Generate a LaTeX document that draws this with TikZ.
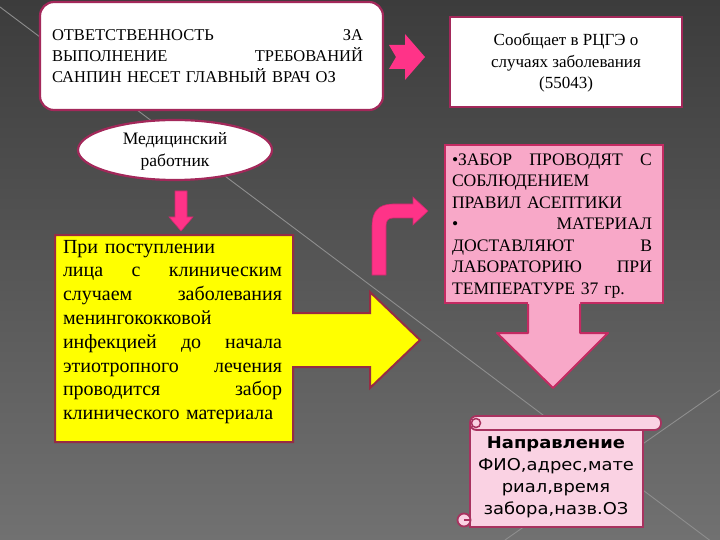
\documentclass[tikz,border=0pt]{standalone}
\usepackage{fontspec}
\setmainfont{Liberation Serif}
\newfontfamily\scrollfont[FakeStretch=1.1]{DejaVu Sans}
\usetikzlibrary{shapes.geometric}
\definecolor{bgtop}{HTML}{3C3C3C}
\definecolor{bgbot}{HTML}{717171}
\definecolor{crim}{HTML}{A3285A}
\definecolor{hotpink}{HTML}{FF3388}
\definecolor{pinkfill}{HTML}{F8A8C8}
\definecolor{pinkline}{HTML}{C42A62}
\definecolor{scrollfill}{HTML}{FAD2E3}
\definecolor{scrollline}{HTML}{A8325F}
\definecolor{yel}{HTML}{FFFF00}
\definecolor{yelline}{HTML}{962C44}
\definecolor{diagline}{HTML}{8E8E8E}
\tikzset{
  whitebox/.style={draw=crim, fill=white, line width=2.2pt, inner sep=0pt},
  pinkarrow/.style={fill=hotpink, draw=hotpink!80!black, line width=0.6pt},
  txt/.style={inner sep=0pt, text=black},
}
\begin{document}
\begin{tikzpicture}[x=1pt,y=-1pt]
\useasboundingbox (0,0) rectangle (720,540);
% background
\shade[top color=bgtop, bottom color=bgbot] (0,0) rectangle (720,540);
\draw[diagline, line width=0.9pt] (0,7) -- (720,548);
\draw[diagline, line width=0.9pt] (720,390) -- (505,540);

% top-left box
\node[whitebox, rounded corners=14pt, minimum width=343pt, minimum height=108pt] (respbox) at (211.5,56) {};
\node[txt, text width=311pt, align=left, font=\fontsize{16.5}{21}\selectfont] (resp) at (207.5,56)
 {ОТВЕТСТВЕННОСТЬ\hfill ЗА\\ВЫПОЛНЕНИЕ\hfill ТРЕБОВАНИЙ\\САНПИН НЕСЕТ ГЛАВНЫЙ ВРАЧ ОЗ};

% notched arrow to the right
\fill[hotpink] (389,45) -- (405,45) -- (405,34) -- (425,57) -- (405,80) -- (405,69) -- (389,69) -- (396,57) -- cycle;

% top-right box
\node[whitebox, minimum width=232pt, minimum height=90pt] (repbox) at (566,62) {};
\node[txt, align=center, font=\fontsize{17}{21.5}\selectfont] (rep) at (566,63)
 {Сообщает в РЦГЭ о\\случаях заболевания\\(55043)};

% ellipse
\node[ellipse, draw=crim, fill=white, line width=2.2pt, minimum width=194pt, minimum height=60pt, inner sep=0pt] (worker) at (175,150) {};
\node[txt, align=center, font=\fontsize{17.5}{22}\selectfont] (workertxt) at (175,151) {Медицинский\\работник};

% small down arrow
\filldraw[pinkarrow] (175,191) -- (187,191) -- (187,217) -- (193,217) -- (181,231) -- (169,217) -- (175,217) -- cycle;

% yellow callout arrow
\filldraw[fill=yel, draw=yelline, line width=2pt] (55,235) -- (293,235) -- (293,313) -- (370,313) -- (370,292) -- (420,340) -- (370,388) -- (370,367) -- (293,367) -- (293,442) -- (55,442) -- cycle;
\node[txt, text width=219pt, align=left, font=\fontsize{20}{23.8}\selectfont] (intake) at (172.5,332)
 {При поступлении\\лица\hfill с\hfill клиническим\\случаем\hfill заболевания\\менингококковой\\инфекцией\hfill до\hfill начала\\этиотропного\hfill лечения\\проводится\hfill забор\\клинического материала};

% bent arrow
\filldraw[pinkarrow] (372,275) -- (372,226) .. controls (372,212) and (378,204) .. (393,204) -- (413,204) -- (413,197) -- (428,211) -- (413,225) -- (413,218) -- (393,218) .. controls (388,218) and (386,221) .. (386,226) -- (386,275) -- cycle;

% pink box
\node[draw=pinkline, fill=pinkfill, line width=2pt, minimum width=218pt, minimum height=158pt, inner sep=0pt] (rulebox) at (554,224) {};
\fill[pinkfill] (528,300) -- (528,333) -- (497,333) -- (553,388) -- (608,333) -- (580,333) -- (580,300) -- cycle;
\draw[pinkline, line width=2pt, line join=round] (528,304) -- (528,333) -- (497,333) -- (553,388) -- (608,333) -- (580,333) -- (580,304);
\node[txt, text width=200pt, align=left, font=\fontsize{17.6}{21.5}\selectfont] (rules) at (552,226)
 {•ЗАБОР\hfill ПРОВОДЯТ\hfill С\\СОБЛЮДЕНИЕМ\\ПРАВИЛ АСЕПТИКИ\\•\hfill МАТЕРИАЛ\\ДОСТАВЛЯЮТ\hfill В\\ЛАБОРАТОРИЮ\hfill ПРИ\\ТЕМПЕРАТУРЕ 37 гр.};

% scroll
\filldraw[fill=scrollfill, draw=scrollline, line width=1.8pt] (470,423) rectangle (643,527);
\filldraw[fill=scrollfill, draw=scrollline, line width=1.8pt, rounded corners=6.5pt] (470,416) rectangle (661,430);
\filldraw[fill=scrollfill, draw=scrollline, line width=1.5pt] (476,423) circle (4.5pt);
\filldraw[fill=scrollfill, draw=scrollline, line width=1.8pt] (464,520) circle (6.5pt);
\draw[scrollline, line width=1.5pt] (464,520) -- (470,520);
\node[txt, align=center, font=\scrollfont\fontsize{16.3}{22}\selectfont] (referral) at (556,477)
 {\textbf{Направление}\\ФИО,адрес,мате\\риал,время\\забора,назв.ОЗ};
\end{tikzpicture}
\end{document}
